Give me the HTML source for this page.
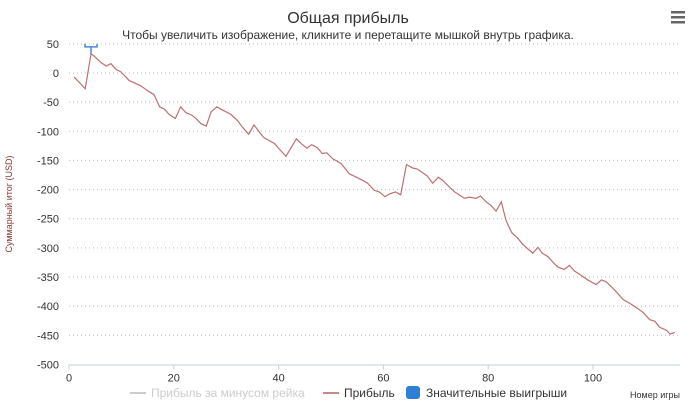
<!DOCTYPE html>
<html><head><meta charset="utf-8"><style>
body{margin:0;background:#fff;font-family:"Liberation Sans","DejaVu Sans",sans-serif}
svg{display:block}
</style></head><body>
<svg id="c" width="696" height="413">
<text x="348" y="23" text-anchor="middle" font-size="16" fill="#333">Общая прибыль</text>
<text x="348" y="39" text-anchor="middle" font-size="12" fill="#333">Чтобы увеличить изображение, кликните и перетащите мышкой внутрь графика.</text>
<g fill="#666"><rect x="671" y="11" width="14" height="2.5"/><rect x="671" y="16" width="14" height="2.5"/><rect x="671" y="21" width="14" height="2.5"/></g>
<text transform="translate(12,204) rotate(-90)" text-anchor="middle" font-size="9" fill="#8b3a3a">Суммарный итог (USD)</text>
<text x="680" y="398" text-anchor="end" font-size="9" fill="#333">Номер игры</text>
<g id="grid"></g><g id="axes"></g><g id="series"></g>
<g font-size="12">
<g><line x1="130" y1="393" x2="146" y2="393" stroke="#ccc" stroke-width="2"/><text x="151" y="397" fill="#ccc">Прибыль за минусом рейка</text></g>
<g><line x1="323" y1="393" x2="339" y2="393" stroke="#c88" stroke-width="2"/><text x="344" y="397" fill="#333">Прибыль</text></g>
<g><rect x="406" y="386" width="14" height="13" rx="3" fill="#2f7ed8"/><text x="426" y="397" fill="#333">Значительные выигрыши</text></g>
</g>
</svg>
<script>
const games=[1.0,3.1,4.2,4.8,6.1,7.1,8.0,9.0,9.9,11.5,12.5,13.7,15.1,16.2,17.3,18.2,19.1,20.3,21.3,22.3,23.4,24.2,25.2,26.2,27.1,28.2,29.4,30.9,32.2,33.1,34.3,35.3,36.3,37.2,39.2,41.4,43.4,44.3,45.4,46.3,47.4,48.3,49.2,50.3,51.9,53.5,55.8,57.0,58.2,59.2,60.3,61.3,62.3,63.3,64.4,65.6,66.5,67.8,68.4,69.4,70.5,71.3,72.4,73.6,75.5,76.4,77.7,78.5,79.6,80.5,81.5,82.5,83.4,84.5,85.6,86.5,87.6,88.5,89.5,90.3,91.4,92.4,93.3,94.5,95.5,96.5,97.7,99.0,100.6,101.6,102.5,104.1,105.8,107.0,108.2,109.6,110.8,111.8,112.7,114.1,114.7,115.6];
const profit=[-7,-27,33,29,18,12,16,6,2,-13,-17,-22,-31,-37,-58,-62,-71,-78,-58,-68,-72,-78,-87,-91,-67,-58,-64,-71,-82,-93,-105,-89,-101,-111,-121,-143,-113,-121,-129,-123,-128,-138,-137,-147,-155,-173,-183,-189,-201,-204,-212,-207,-204,-209,-157,-163,-165,-173,-177,-189,-179,-184,-194,-204,-215,-213,-215,-211,-221,-227,-237,-221,-253,-274,-283,-293,-302,-309,-299,-309,-315,-325,-333,-337,-330,-340,-347,-355,-363,-355,-358,-372,-389,-395,-402,-411,-423,-426,-436,-442,-448,-445];
const flagGames=[4.2];
const yTicks=[50,0,-50,-100,-150,-200,-250,-300,-350,-400,-450,-500];
const xTicks=[0,20,40,60,80,100];
const X=v=>69+v*5.24, Y=v=>73-v*0.5829;
const NS='http://www.w3.org/2000/svg';
function mk(t,a,p){const e=document.createElementNS(NS,t);for(const k in a)e.setAttribute(k,a[k]);p.appendChild(e);return e;}
const grid=document.getElementById('grid'),axes=document.getElementById('axes'),ser=document.getElementById('series');
yTicks.forEach(v=>{
 if(v>-500){const l=mk('line',{x1:69,x2:680,y1:Y(v),y2:Y(v),stroke:'#bbb','stroke-dasharray':'1,3'},grid);
 
 }
 const t=mk('text',{x:59,y:Y(v)+4,'text-anchor':'end','font-size':11,fill:'#333'},axes);t.textContent=v;
 
 
});
const ax=mk('line',{x1:69,x2:680,y1:Y(-500)+0.5,y2:Y(-500)+0.5,stroke:'#c0d0e0'},axes);


xTicks.forEach(v=>{
 const tk=mk('line',{x1:X(v),x2:X(v),y1:Y(-500),y2:Y(-500)+5,stroke:'#c0d0e0'},axes);
 
 
 const t=mk('text',{x:X(v),y:Y(-500)+17,'text-anchor':'middle','font-size':11,fill:'#333'},axes);t.textContent=v;
 
 
});
const pl=mk('polyline',{points:games.map((g,i)=>X(g)+','+Y(profit[i])).join(' '),fill:'none',stroke:'#c07070','stroke-width':1.2},ser);


flagGames.forEach(g=>{
 const i=games.indexOf(g);const x=X(g),y=Y(profit[i]);
 const f=mk('path',{d:`M${x},${y} V${Y(50)+3} M${x-6},${Y(50)} v3 h12 v-3`,stroke:'#4a8ad8','stroke-width':1.5,fill:'none'},ser);
 
 
});
</script>
</body></html>
